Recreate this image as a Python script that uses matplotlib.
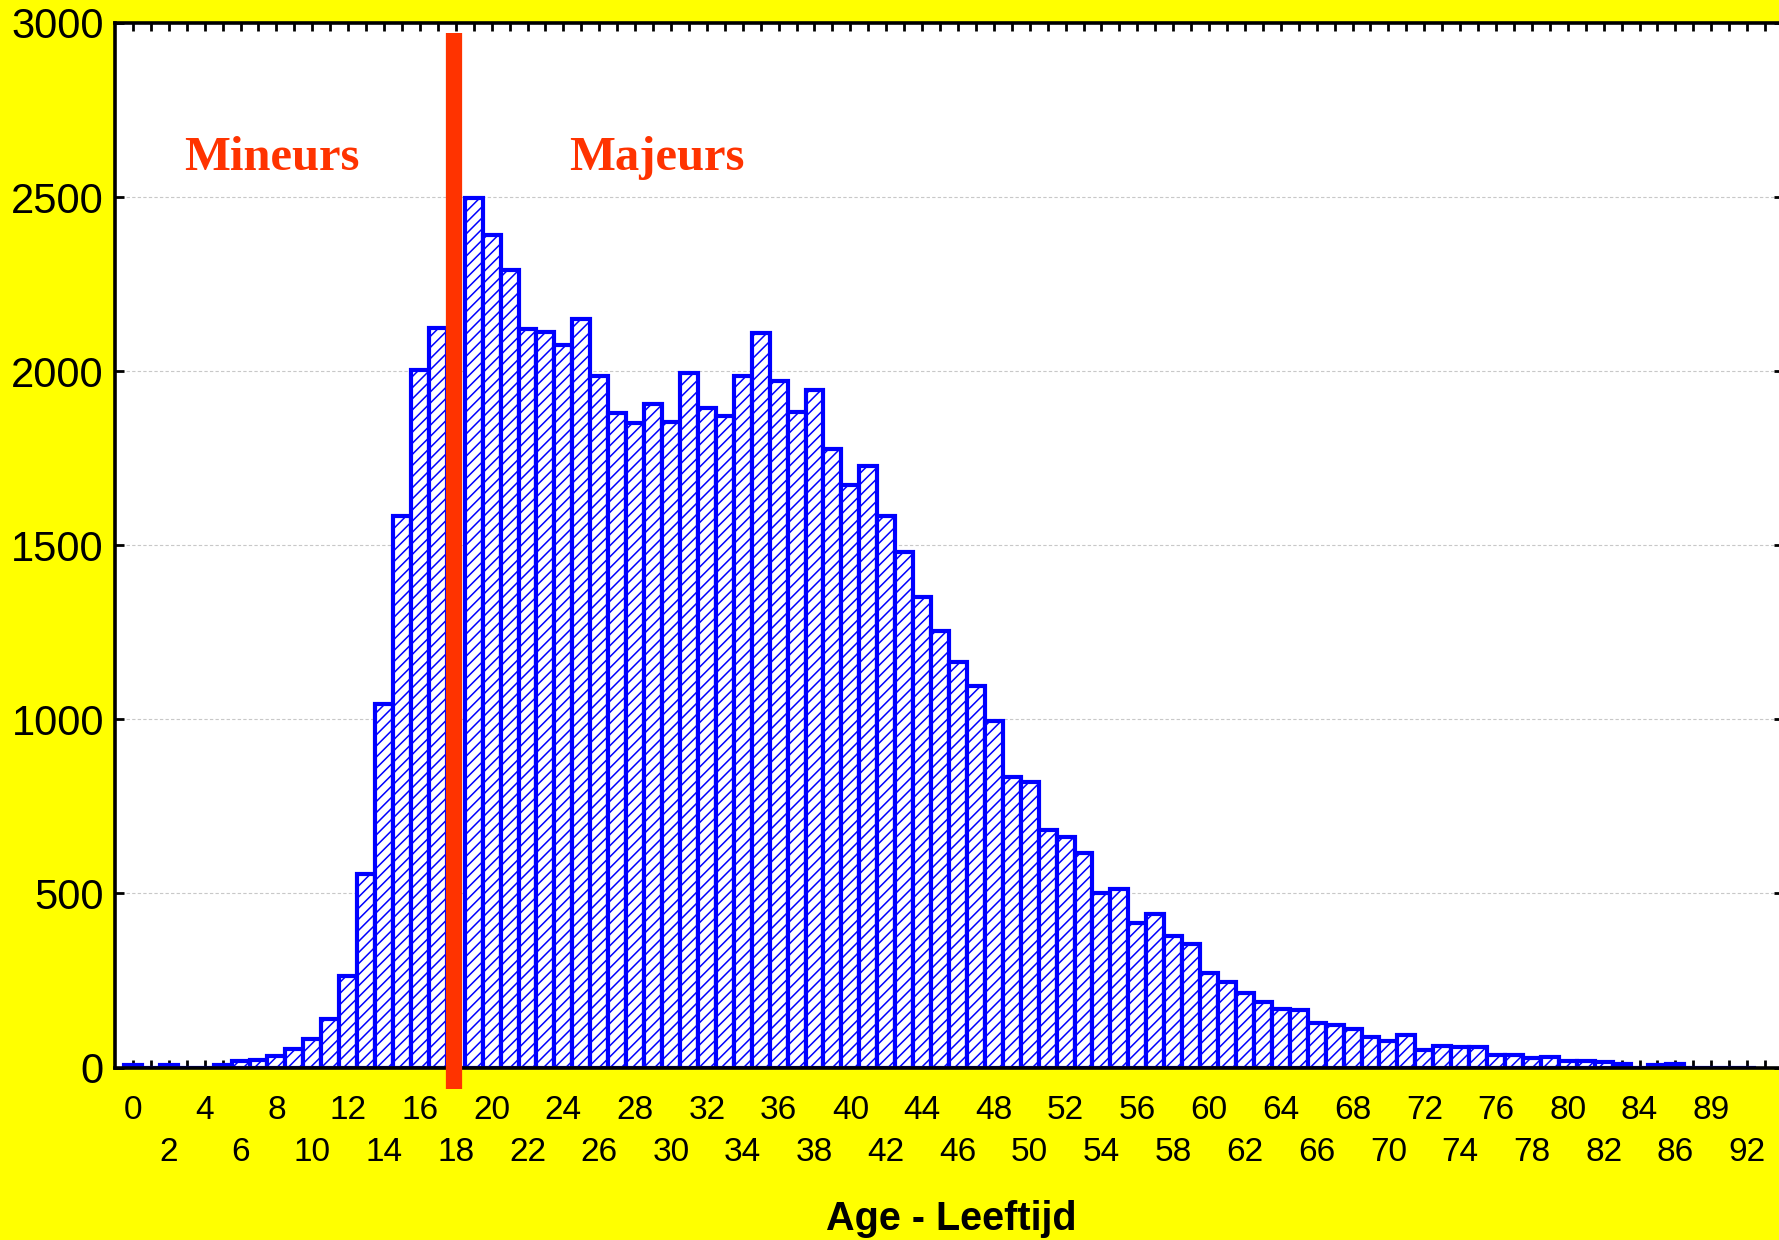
import matplotlib
matplotlib.use("Agg")
import matplotlib.pyplot as plt
from matplotlib.transforms import blended_transform_factory

# age categories (one bar per age, a few high ages missing)
ages = list(range(0, 88)) + [89, 90, 92]

# number of persons per age
# (age 18 sits behind the red line and is not visible)
counts = [6, 0, 7, 0, 0, 7, 19, 21, 32, 53,
          82, 139, 263, 555, 1045, 1585, 2002, 2125, 0, 2497,
          2390, 2290, 2120, 2113, 2075, 2150, 1986, 1880, 1850, 1905,
          1853, 1995, 1894, 1871, 1986, 2110, 1973, 1882, 1947, 1777,
          1673, 1728, 1585, 1481, 1350, 1253, 1165, 1096, 995, 835,
          819, 682, 663, 617, 502, 514, 415, 441, 379, 356,
          272, 245, 213, 189, 167, 164, 128, 122, 110, 88,
          76, 93, 50, 62, 58, 58, 36, 36, 28, 29,
          20, 19, 17, 9, 0, 8, 10, 0, 0, 0,
          0]

yticks = [0, 500, 1000, 1500, 2000, 2500, 3000]
age_limit = 18

yellow = "#ffff00"
red = "#ff3300"
blue = "#0000ff"

plt.rcParams["hatch.linewidth"] = 1.1

W, H = 1779, 1240
fig = plt.figure(figsize=(W / 100, H / 100), dpi=100, facecolor=yellow)
# axes runs a few pixels past the right edge of the picture
ax = fig.add_axes([115 / W, 172.5 / H, 1668 / W, 1044.5 / H])
ax.set_facecolor("white")

pos = list(range(len(ages)))
ax.bar(pos, counts, width=1.0, color="white", edgecolor=blue,
       linewidth=3.0, hatch="///", zorder=2)

ax.set_xlim(-1, 92)
ax.set_ylim(0, 3000)

for s in ["left", "top", "bottom"]:
    ax.spines[s].set_linewidth(2.6)
ax.spines["right"].set_visible(False)

ax.set_yticks(yticks)
ax.set_yticklabels([str(v) for v in yticks], family="Liberation Sans")
ax.tick_params(axis="y", direction="in", length=6.5, width=2,
               left=True, right=True, labelsize=30, pad=8)

ax.set_xticks(range(0, 92))
ax.tick_params(axis="x", direction="in", length=6, width=2,
               top=True, bottom=True, labelbottom=False)

ax.yaxis.grid(True, color="#c8c8c8", linestyle=(0, (3, 2)), linewidth=0.8)
ax.set_axisbelow(True)

# two staggered rows of age labels, every second category
trans = blended_transform_factory(ax.transData, ax.transAxes)
for i, a in enumerate(ages):
    if i % 2:
        continue
    y = -0.0496 if i % 4 == 0 else -0.0895
    ax.text(i, y, str(a), transform=trans, ha="center", va="baseline",
            fontsize=24, family="Liberation Sans")

# red separation line at 18 years
ax.axvline(ages.index(age_limit) - 0.1, ymin=-0.0209, ymax=0.9904, color=red,
           linewidth=11.7, solid_capstyle="butt", clip_on=False, zorder=5)

ax.text(2.88, 2578, "Mineurs", color=red, family="Liberation Serif",
        fontweight="bold", fontsize=35, ha="left", va="baseline")
ax.text(24.3, 2578, "Majeurs", color=red, family="Liberation Serif",
        fontweight="bold", fontsize=35, ha="left", va="baseline")

fig.text(951 / W, 10 / H, "Age - Leeftijd", ha="center", va="baseline",
         fontsize=28.5, fontweight="bold", family="Liberation Sans")

fig.savefig("out.png", dpi=100, facecolor=yellow)
